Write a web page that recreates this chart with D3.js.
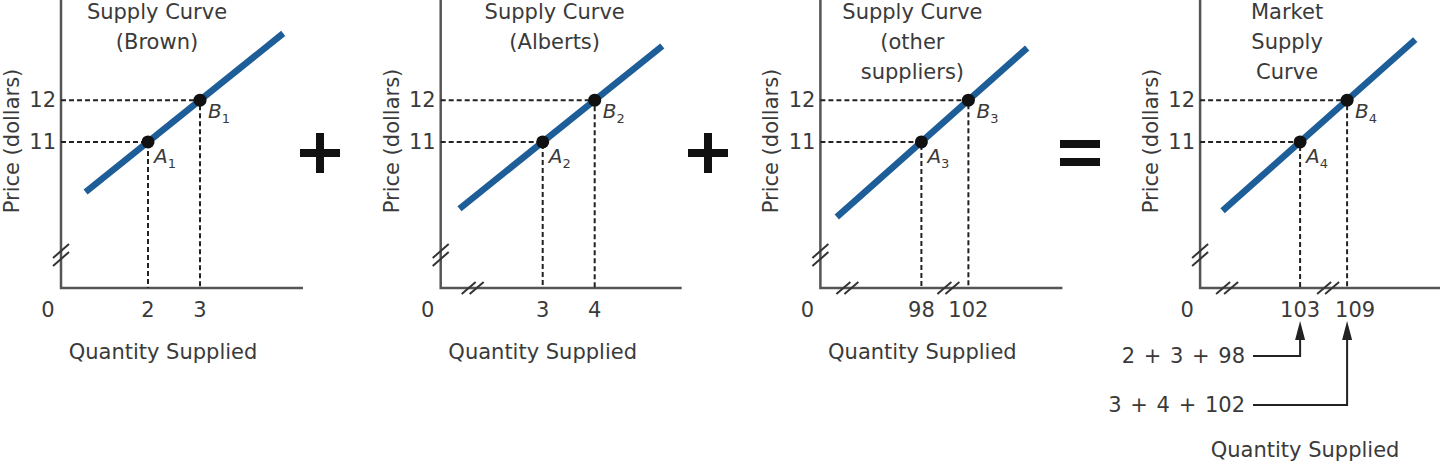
<!DOCTYPE html>
<html>
<head>
<meta charset="utf-8">
<script src="https://cdn.jsdelivr.net/npm/d3@7"></script>
<style>
  html, body { margin: 0; padding: 0; background: #fff; }
  svg { display: block; }
  text { font-family: "DejaVu Sans", sans-serif; fill: #3a3a3a; }
</style>
</head>
<body>
<script>
// data
const panelTitles = [
  ["Supply Curve", "(Brown)"],
  ["Supply Curve", "(Alberts)"],
  ["Supply Curve", "(other", "suppliers)"],
  ["Market", "Supply", "Curve"]
];
const priceTicks = [11, 12];
const quantityA = [2, 3, 98, 103];
const quantityB = [3, 4, 102, 109];
const pointSubs = ["1", "2", "3", "4"];
const curveQ = [[0.8, 4.6], [1.4, 5.3], [90.8, 107], [93.1, 117.7]];
const curveP = [[9.8, 13.6], [9.4, 13.3], [9.2, 13.25], [9.35, 13.45]];
const sumLabels = ["2 + 3 + 98", "3 + 4 + 102"];
const operators = ["+", "+", "="];

// layout
const width = 1440;
const height = 466;
const panelStep = 379.7;
const axisX0 = 61;
const axisBottom = 288;
const tickOff = [[87, 139], [102, 154], [101, 148], [100, 147]];
const axisLen = [242, 241, 242, 260];
const xBreaks = [[], [32], [27, 128], [27, 128]];
const titleDx = [96, 114, 92, 87];
const yBreak = 255;
const curveColor = "#1d5e98";
const axisColor = "#555";

const svg = d3.select("body").append("svg")
  .attr("width", width)
  .attr("height", height);

const y = d3.scaleLinear().domain([7.5, 14.4]).range([axisBottom, 0]);

function drawPanel(i) {
  const ax = axisX0 + i * panelStep;
  const x = d3.scaleLinear()
    .domain([quantityA[i], quantityB[i]])
    .range([ax + tickOff[i][0], ax + tickOff[i][1]]);
  const g = svg.append("g");

  // axes
  g.append("path")
    .attr("d", `M${ax},0 V${axisBottom} H${ax + axisLen[i]}`)
    .attr("fill", "none")
    .attr("stroke", axisColor)
    .attr("stroke-width", 2.5);

  // y break
  [-4, 4].forEach(d => {
    g.append("line")
      .attr("x1", ax - 8).attr("y1", yBreak + d + 7)
      .attr("x2", ax + 8).attr("y2", yBreak + d - 7)
      .attr("stroke", "#333").attr("stroke-width", 2);
  });
  // x breaks
  xBreaks[i].forEach(b => {
    [-4, 4].forEach(d => {
      g.append("line")
        .attr("x1", ax + b + d - 7).attr("y1", axisBottom + 6)
        .attr("x2", ax + b + d + 7).attr("y2", axisBottom - 6)
        .attr("stroke", "#333").attr("stroke-width", 2);
    });
  });

  // title
  g.append("text")
    .attr("x", ax + titleDx[i])
    .attr("y", 12)
    .attr("text-anchor", "middle")
    .attr("font-size", 21)
    .attr("fill", "#4a4a4a")
    .selectAll("tspan")
    .data(panelTitles[i])
    .join("tspan")
    .attr("x", ax + titleDx[i])
    .attr("dy", (d, k) => k === 0 ? 7 : 30)
    .text(d => d);

  // y label
  g.append("text")
    .attr("transform", `translate(${ax - 48},${141}) rotate(-90)`)
    .attr("text-anchor", "middle")
    .attr("dominant-baseline", "middle")
    .attr("font-size", 21)
    .text("Price (dollars)");

  // y tick labels
  g.selectAll(".ytick")
    .data(priceTicks)
    .join("text")
    .attr("x", ax - 5)
    .attr("y", d => y(d))
    .attr("text-anchor", "end")
    .attr("dominant-baseline", "central")
    .attr("font-size", 21)
    .text(d => d);

  // zero label
  g.append("text")
    .attr("x", ax - 13)
    .attr("y", 310)
    .attr("text-anchor", "middle")
    .attr("dominant-baseline", "central")
    .attr("font-size", 21)
    .text("0");

  const qs = [quantityA[i], quantityB[i]];
  // x tick labels
  g.selectAll(".xtick")
    .data(qs)
    .join("text")
    .attr("x", (d, k) => x(d) + (i === 3 && k === 1 ? 8 : 0))
    .attr("y", 310)
    .attr("text-anchor", "middle")
    .attr("dominant-baseline", "central")
    .attr("font-size", 21)
    .text(d => d);

  // dashed guides
  qs.forEach((q, k) => {
    g.append("path")
      .attr("d", `M${ax},${y(priceTicks[k])} H${x(q)} V${axisBottom}`)
      .attr("fill", "none")
      .attr("stroke", "#222")
      .attr("stroke-width", 2)
      .attr("stroke-dasharray", "5,3");
  });

  // supply curve
  g.append("line")
    .attr("x1", x(curveQ[i][0])).attr("y1", y(curveP[i][0]))
    .attr("x2", x(curveQ[i][1])).attr("y2", y(curveP[i][1]))
    .attr("stroke", curveColor)
    .attr("stroke-width", 6.5);

  // points
  g.selectAll(".pt")
    .data(qs)
    .join("circle")
    .attr("cx", d => x(d))
    .attr("cy", (d, k) => y(priceTicks[k]))
    .attr("r", 6.5)
    .attr("fill", "#111");

  // point labels
  ["A", "B"].forEach((letter, k) => {
    const t = g.append("text")
      .attr("x", x(qs[k]) + (k === 0 ? 6 : 8))
      .attr("y", y(priceTicks[k]) + (k === 0 ? 21 : 18))
      .attr("font-size", 20)
      .attr("font-style", "italic");
    t.append("tspan").text(letter);
    t.append("tspan")
      .attr("font-size", 13)
      .attr("font-style", "normal")
      .attr("dy", 5)
      .text(pointSubs[i]);
  });

  // x label
  const xlY = i === 3 ? 450 : 352;
  g.append("text")
    .attr("x", i === 3 ? ax + 105 : ax + 102)
    .attr("y", xlY)
    .attr("text-anchor", "middle")
    .attr("dominant-baseline", "central")
    .attr("font-size", 21)
    .text("Quantity Supplied");

  return x;
}

const xScales = [0, 1, 2, 3].map(drawPanel);

// operators between panels
const opX = [320, 708, 1080];
operators.forEach((op, k) => {
  const cx = opX[k];
  if (op === "+") {
    svg.append("path")
      .attr("d", `M${cx - 20},153 H${cx + 20} M${cx},133 V173`)
      .attr("stroke", "#111")
      .attr("stroke-width", 8);
  } else {
    svg.append("path")
      .attr("d", `M${cx - 20},144 H${cx + 20} M${cx - 20},162 H${cx + 20}`)
      .attr("stroke", "#111")
      .attr("stroke-width", 8);
  }
});

// sum annotations in market panel
const x4 = xScales[3];
const sumTargets = [quantityA[3], quantityB[3]];
const sumY = [356, 405];

sumLabels.forEach((lab, k) => {
  svg.append("text")
    .attr("x", 1245)
    .attr("y", sumY[k])
    .attr("text-anchor", "end")
    .attr("dominant-baseline", "central")
    .attr("font-size", 21)
    .attr("word-spacing", 2)
    .text(lab);
  svg.append("path")
    .attr("d", `M1253,${sumY[k]} H${x4(sumTargets[k])} V330`)
    .attr("fill", "none")
    .attr("stroke", "#222")
    .attr("stroke-width", 2);
  svg.append("path")
    .attr("d", `M${x4(sumTargets[k]) - 5},340 L${x4(sumTargets[k])},321 L${x4(sumTargets[k]) + 5},340 Z`)
    .attr("fill", "#222");
});
</script>
</body>
</html>
